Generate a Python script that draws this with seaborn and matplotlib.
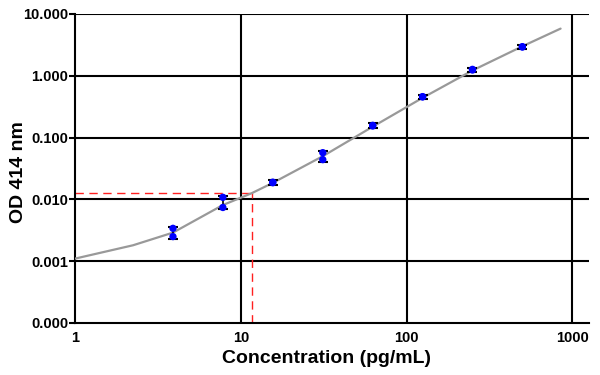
import matplotlib
matplotlib.use("Agg")
import matplotlib.pyplot as plt
import seaborn as sns
import numpy as np
import pandas as pd
from matplotlib.ticker import FixedLocator, FixedFormatter, NullLocator

# Data
conc = [3.9, 7.8, 15.6, 31.25, 62.5, 125, 250, 500]
od_rep1 = [0.0034, 0.0108, 0.0190, 0.057, 0.158, 0.46, 1.27, 2.96]
od_rep2 = [0.0025, 0.0074, 0.0186, 0.044, 0.154, 0.455, 1.24, 2.92]

fit_x = [1, 2.24, 3.9, 7.8, 11.65, 15.6, 31.25, 62.5, 125, 250, 500, 850]
fit_y = [0.0011, 0.00181, 0.0029, 0.0081, 0.0126, 0.0185, 0.050, 0.150, 0.44, 1.22, 3.0, 5.8]

unknown_x = 11.65
unknown_y = 0.0126

yticks = [0.0001, 0.001, 0.01, 0.1, 1, 10]
ytick_labels = ["0.000", "0.001", "0.010", "0.100", "1.000", "10.000"]
xticks = [1, 10, 100, 1000]
xtick_labels = ["1", "10", "100", "1000"]

sns.set_theme(style="white")
plt.rcParams['font.family'] = ['Liberation Sans', 'DejaVu Sans']
plt.rcParams['text.color'] = 'black'
plt.rcParams['axes.labelcolor'] = 'black'
plt.rcParams['xtick.color'] = 'black'
plt.rcParams['ytick.color'] = 'black'

fig = plt.figure(figsize=(6, 3.75), dpi=100)
ax = fig.add_axes([0.125, 0.1387, 0.857, 0.824])

ax.set_xscale("log")
ax.set_yscale("log")
ax.set_xlim(1, 1265)
ax.set_ylim(0.0001, 10)

# grid lines
for yv in yticks[1:]:
    ax.axhline(yv, color="black", lw=1.5, zorder=1)
for xv in xticks[1:]:
    ax.axvline(xv, color="black", lw=1.5, zorder=1)

# fit curve
fit_df = pd.DataFrame({"x": fit_x, "y": fit_y})
sns.lineplot(data=fit_df, x="x", y="y", ax=ax, color="#999999", lw=1.6,
             sort=False, estimator=None, zorder=3)

# red dashed interpolation lines
ax.plot([1, unknown_x], [unknown_y, unknown_y], color="#ff2020", ls=(0, (6, 4)), lw=1.0, zorder=2)
ax.plot([unknown_x, unknown_x], [0.0001, unknown_y], color="#ff2020", ls=(0, (6, 4)), lw=1.0, zorder=2)

# error bars between replicates
lo = np.minimum(od_rep1, od_rep2)
hi = np.maximum(od_rep1, od_rep2)
mid = np.sqrt(lo * hi)
ax.errorbar(conc, mid, yerr=[mid - lo * 0.93, hi * 1.07 - mid], fmt="none",
            ecolor="black", elinewidth=1.2, capsize=3.5, capthick=1.5, zorder=4)

pts = pd.DataFrame({"x": conc + conc, "y": od_rep1 + od_rep2})
sns.scatterplot(data=pts, x="x", y="y", ax=ax, color="#0000ff", s=28,
                edgecolor="none", zorder=5)

ax.xaxis.set_major_locator(FixedLocator(xticks))
ax.xaxis.set_major_formatter(FixedFormatter(xtick_labels))
ax.xaxis.set_minor_locator(NullLocator())
ax.yaxis.set_major_locator(FixedLocator(yticks))
ax.yaxis.set_major_formatter(FixedFormatter(ytick_labels))
ax.yaxis.set_minor_locator(NullLocator())

for s in ["top", "right"]:
    ax.spines[s].set_visible(False)
for s in ["left", "bottom"]:
    ax.spines[s].set_color("black")
    ax.spines[s].set_linewidth(1.5)

ax.tick_params(axis="y", which="major", length=4, width=1.5, color="black",
               labelcolor="black", labelsize=10.5, pad=1, left=True)
ax.tick_params(axis="x", which="major", length=0, labelcolor="black",
               labelsize=10.5, pad=6)
for lab in ax.get_xticklabels() + ax.get_yticklabels():
    lab.set_fontweight("bold")

ax.set_xlabel("Concentration (pg/mL)", fontsize=14, fontweight="bold", color="black")
ax.set_ylabel("OD 414 nm", fontsize=14, fontweight="bold", color="black")
ax.xaxis.set_label_coords(0.49, -0.088)
ax.yaxis.set_label_coords(-0.093, 0.49)

fig.savefig("out.png", dpi=100)
